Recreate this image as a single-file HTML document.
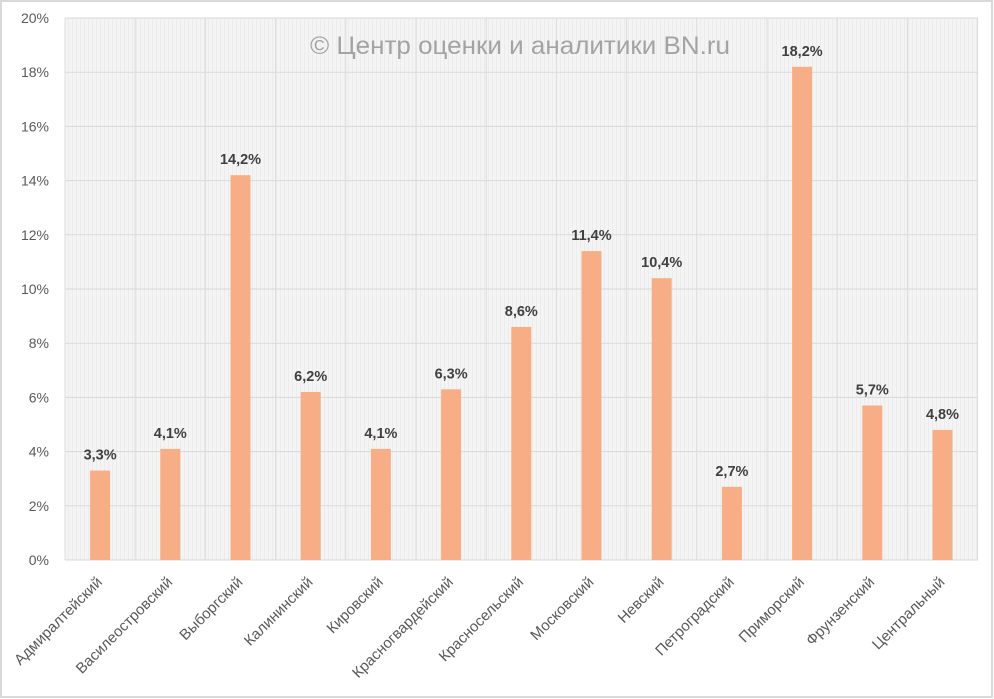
<!DOCTYPE html>
<html>
<head>
<meta charset="utf-8">
<style>
  html,body{margin:0;padding:0;background:#ffffff;}
  svg{display:block;}
  text{font-family:"Liberation Sans","DejaVu Sans",sans-serif;}
</style>
</head>
<body>
<svg width="994" height="699" viewBox="0 0 994 699" xmlns="http://www.w3.org/2000/svg">
  <defs>
    <pattern id="bgp" x="0" y="0" width="4" height="4" patternUnits="userSpaceOnUse">
      <rect width="4" height="4" fill="#f4f4f4"/>
      <rect x="0" y="0" width="1" height="4" fill="#ececec"/>
    </pattern>
  </defs>
  <rect x="0" y="0" width="994" height="699" fill="#ffffff"/>
  <rect x="1" y="1" width="991" height="696" fill="none" stroke="#d9d9d9" stroke-width="2"/>

  <!-- plot background -->
  <rect x="65" y="18" width="913" height="542" fill="url(#bgp)"/>

  <!-- horizontal gridlines -->
  <g stroke="#d9d9d9" stroke-width="1">
    <line x1="65" y1="18" x2="978" y2="18"/>
    <line x1="65" y1="72.2" x2="978" y2="72.2"/>
    <line x1="65" y1="126.4" x2="978" y2="126.4"/>
    <line x1="65" y1="180.6" x2="978" y2="180.6"/>
    <line x1="65" y1="234.8" x2="978" y2="234.8"/>
    <line x1="65" y1="289" x2="978" y2="289"/>
    <line x1="65" y1="343.2" x2="978" y2="343.2"/>
    <line x1="65" y1="397.4" x2="978" y2="397.4"/>
    <line x1="65" y1="451.6" x2="978" y2="451.6"/>
    <line x1="65" y1="505.8" x2="978" y2="505.8"/>
    <line x1="65" y1="560" x2="978" y2="560"/>
  </g>
  <!-- vertical gridlines -->
  <g stroke="#dcdcdc" stroke-width="1">
    <line x1="65" y1="18" x2="65" y2="560"/>
    <line x1="135.2" y1="18" x2="135.2" y2="560"/>
    <line x1="205.4" y1="18" x2="205.4" y2="560"/>
    <line x1="275.6" y1="18" x2="275.6" y2="560"/>
    <line x1="345.8" y1="18" x2="345.8" y2="560"/>
    <line x1="416" y1="18" x2="416" y2="560"/>
    <line x1="486.2" y1="18" x2="486.2" y2="560"/>
    <line x1="556.4" y1="18" x2="556.4" y2="560"/>
    <line x1="626.6" y1="18" x2="626.6" y2="560"/>
    <line x1="696.8" y1="18" x2="696.8" y2="560"/>
    <line x1="767" y1="18" x2="767" y2="560"/>
    <line x1="837.2" y1="18" x2="837.2" y2="560"/>
    <line x1="907.4" y1="18" x2="907.4" y2="560"/>
    <line x1="977.6" y1="18" x2="977.6" y2="560"/>
  </g>

  <!-- watermark -->
  <text x="310" y="54" font-size="25" fill="#a3a3a3" textLength="420" lengthAdjust="spacingAndGlyphs">© Центр оценки и аналитики BN.ru</text>

  <!-- y axis labels -->
  <g font-size="14" fill="#595959" text-anchor="end">
    <text x="49" y="23">20%</text>
    <text x="49" y="77.2">18%</text>
    <text x="49" y="131.4">16%</text>
    <text x="49" y="185.6">14%</text>
    <text x="49" y="239.8">12%</text>
    <text x="49" y="294">10%</text>
    <text x="49" y="348.2">8%</text>
    <text x="49" y="402.4">6%</text>
    <text x="49" y="456.6">4%</text>
    <text x="49" y="510.8">2%</text>
    <text x="49" y="565">0%</text>
  </g>

  <!-- bars -->
  <g fill="#f7ae86">
    <rect x="90.1" y="470.6" width="20" height="89.4"/>
    <rect x="160.3" y="448.9" width="20" height="111.1"/>
    <rect x="230.5" y="175.2" width="20" height="384.8"/>
    <rect x="300.7" y="392" width="20" height="168"/>
    <rect x="370.9" y="448.9" width="20" height="111.1"/>
    <rect x="441.1" y="389.3" width="20" height="170.7"/>
    <rect x="511.3" y="326.9" width="20" height="233.1"/>
    <rect x="581.5" y="251.1" width="20" height="308.9"/>
    <rect x="651.7" y="278.2" width="20" height="281.8"/>
    <rect x="721.9" y="486.8" width="20" height="73.2"/>
    <rect x="792.1" y="66.8" width="20" height="493.2"/>
    <rect x="862.3" y="405.5" width="20" height="154.5"/>
    <rect x="932.5" y="429.9" width="20" height="130.1"/>
  </g>

  <!-- data labels -->
  <g font-size="14.5" font-weight="bold" fill="#404040" text-anchor="middle">
    <text x="100.1" y="459.6">3,3%</text>
    <text x="170.3" y="437.9">4,1%</text>
    <text x="240.5" y="164.2">14,2%</text>
    <text x="310.7" y="381">6,2%</text>
    <text x="380.9" y="437.9">4,1%</text>
    <text x="451.1" y="378.3">6,3%</text>
    <text x="521.3" y="315.9">8,6%</text>
    <text x="591.5" y="240.1">11,4%</text>
    <text x="661.7" y="267.2">10,4%</text>
    <text x="731.9" y="475.8">2,7%</text>
    <text x="802.1" y="55.8">18,2%</text>
    <text x="872.3" y="394.5">5,7%</text>
    <text x="942.5" y="418.9">4,8%</text>
  </g>

  <!-- x axis labels -->
  <g font-size="15" fill="#595959" text-anchor="end">
    <text transform="translate(103.1,583) rotate(-45)">Адмиралтейский</text>
    <text transform="translate(173.3,583) rotate(-45)">Василеостровский</text>
    <text transform="translate(243.5,583) rotate(-45)">Выборгский</text>
    <text transform="translate(313.7,583) rotate(-45)">Калининский</text>
    <text transform="translate(383.9,583) rotate(-45)">Кировский</text>
    <text transform="translate(454.1,583) rotate(-45)">Красногвардейский</text>
    <text transform="translate(524.3,583) rotate(-45)">Красносельский</text>
    <text transform="translate(594.5,583) rotate(-45)">Московский</text>
    <text transform="translate(664.7,583) rotate(-45)">Невский</text>
    <text transform="translate(734.9,583) rotate(-45)">Петроградский</text>
    <text transform="translate(805.1,583) rotate(-45)">Приморский</text>
    <text transform="translate(875.3,583) rotate(-45)">Фрунзенский</text>
    <text transform="translate(945.5,583) rotate(-45)">Центральный</text>
  </g>
</svg>
</body>
</html>
